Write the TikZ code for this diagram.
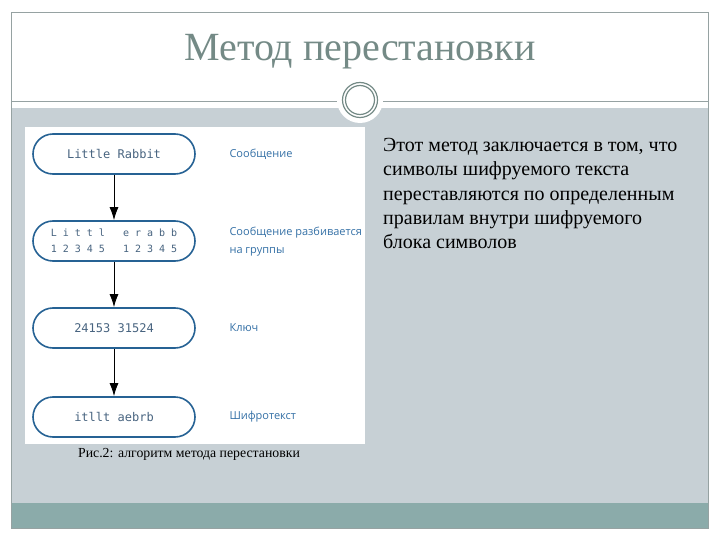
\documentclass[tikz,border=0pt]{standalone}
\usepackage{fontspec}
\setmainfont{Liberation Serif}
\newfontfamily\labelfont{Open Sans}
\newfontfamily\codefont{DejaVu Sans Mono}
\usetikzlibrary{arrows.meta}
\definecolor{slidegray}{RGB}{199,208,213}
\definecolor{slideteal}{RGB}{139,171,170}
\definecolor{framegray}{RGB}{150,162,162}
\definecolor{titlegray}{RGB}{116,138,134}
\definecolor{pillblue}{RGB}{38,98,148}
\definecolor{codegray}{RGB}{72,100,128}
\definecolor{labelblue}{RGB}{52,112,166}
\tikzset{>={Latex[length=13pt,width=9pt]}}
\tikzset{
  pill/.style={draw=pillblue, line width=1.6pt, rounded corners=20pt, fill=white,
    minimum width=162pt, minimum height=40pt, text=codegray,
    font=\codefont\fontsize{12}{14}\selectfont, align=center},
  steplabel/.style={anchor=west, text=labelblue, align=left,
    font=\labelfont\fontsize{11}{18}\selectfont},
}

\begin{document}
\begin{tikzpicture}[x=1pt,y=-1pt]
\useasboundingbox (0,0) rectangle (720,540);
\fill[white] (0,0) rectangle (720,540);
\fill[slidegray] (11,108) rectangle (708,503);
\fill[slideteal] (11,503) rectangle (708,528);
\draw[framegray] (11,101) -- (708,101);
\draw[framegray] (11,12) rectangle (708,528);
\fill[white] (360,100) circle (23);
\draw[titlegray, line width=1.2pt] (360,100) circle (17.5);
\draw[titlegray, line width=1.2pt] (360,100) circle (14.5);
\node[text=titlegray, font=\fontsize{40}{48}\selectfont] (title) at (360,52) {Метод перестановки};

% picture
\fill[white] (25,127) rectangle (365,444);
\node[pill] (msg) at (114,154) {Little Rabbit};
\node[pill, font=\codefont\fontsize{10}{16}\selectfont] (grp) at (114,241)
  {L i t t l \ \ e r a b b\\1 2 3 4 5 \ \ 1 2 3 4 5};
\node[pill] (key) at (114,328) {24153 31524};
\node[pill] (cip) at (114,417) {itllt aebrb};
\draw[->, line width=1pt] (msg) -- (grp);
\draw[->, line width=1pt] (grp) -- (key);
\draw[->, line width=1pt] (key) -- (cip);
\node[steplabel] (msglbl) at (226,154) {Сообщение};
\node[steplabel] (grplbl) at (226,242) {Сообщение разбивается\\на группы};
\node[steplabel] (keylbl) at (226,328) {Ключ};
\node[steplabel] (ciplbl) at (226,417) {Шифротекст};
\node[font=\fontsize{13.8}{16}\selectfont] (caption) at (189,454) {Рис.2: алгоритм метода перестановки};

% text
\node[anchor=north west, inner sep=0pt, align=left,
  font=\fontsize{20}{24.3}\selectfont] (body) at (383,138)
  {Этот метод заключается в том, что\\символы шифруемого текста\\переставляются по определенным\\правилам внутри шифруемого\\блока символов};
\end{tikzpicture}
\end{document}
